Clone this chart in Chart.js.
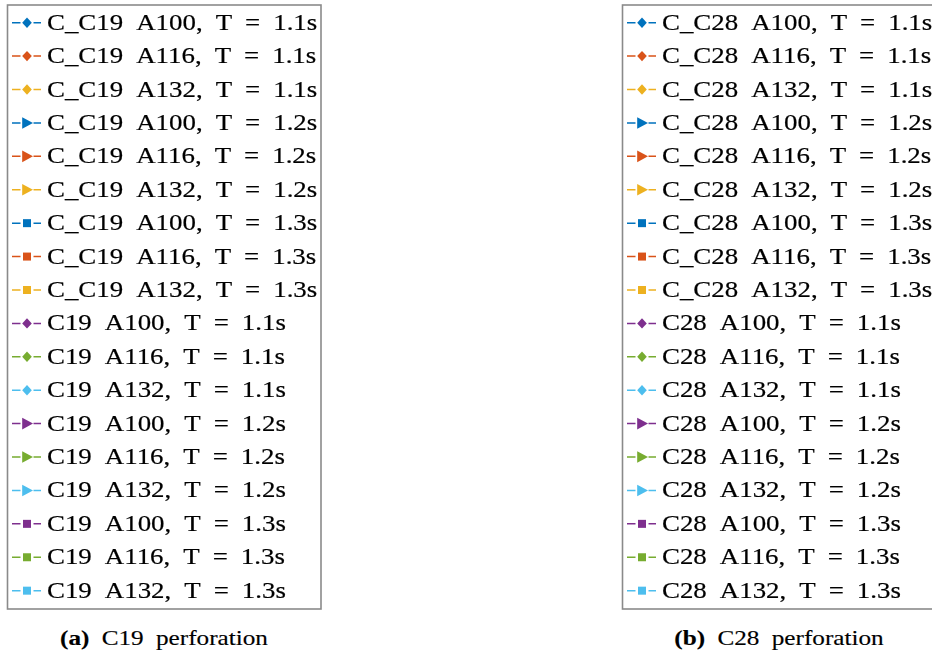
<!DOCTYPE html>
<html>
<head>
<meta charset="utf-8">
<script src="https://cdn.jsdelivr.net/npm/chart.js@4.4.1/dist/chart.umd.min.js"></script>
<style>
    html, body { margin: 0; padding: 0; background: #fff; width: 932px; height: 657px; overflow: hidden; }
    .panel { position: absolute; top: 0; }
    .caption {
        position: absolute; top: 626px; width: 300px; text-align: center;
        font-family: "Liberation Serif", "Times New Roman", serif; font-size: 21px; color: #000;
        white-space: nowrap; word-spacing: 5px; transform: scaleX(1.2); transform-origin: center;
        -webkit-text-stroke: 0.15px #000;
    }
    .caption b { font-weight: bold; }
</style>
</head>
<body>
<canvas id="chartC19" class="panel" width="330" height="616" style="left:0px"></canvas>
<canvas id="chartC28" class="panel" width="330" height="616" style="left:615px"></canvas>
<div class="caption" style="left:14px"><b>(a)</b> C19 perforation</div>
<div class="caption" style="left:629px"><b>(b)</b> C28 perforation</div>

<script>
// 測點（圖中被圖例遮住，只能估計）
const xLabels = ['G1', 'G2', 'G3', 'G4'];
const amplitudes = ['A100', 'A116', 'A132'];
const periods = ['1.1s', '1.2s', '1.3s'];

// 各組數值：順序為 T=1.1s(A100,A116,A132), T=1.2s(...), T=1.3s(...)
const cc19Values = [
    [0.42, 0.55, 0.61, 0.48], [0.45, 0.58, 0.66, 0.51], [0.47, 0.62, 0.70, 0.55],
    [0.40, 0.52, 0.59, 0.46], [0.43, 0.56, 0.63, 0.49], [0.46, 0.60, 0.68, 0.53],
    [0.38, 0.50, 0.57, 0.44], [0.41, 0.54, 0.61, 0.47], [0.44, 0.57, 0.65, 0.51]
];
const c19Values = [
    [0.36, 0.47, 0.53, 0.41], [0.39, 0.50, 0.57, 0.44], [0.41, 0.53, 0.60, 0.47],
    [0.35, 0.45, 0.51, 0.40], [0.37, 0.48, 0.55, 0.42], [0.40, 0.51, 0.58, 0.45],
    [0.33, 0.43, 0.49, 0.38], [0.36, 0.46, 0.52, 0.41], [0.38, 0.49, 0.56, 0.43]
];
const cc28Values = [
    [0.48, 0.60, 0.67, 0.53], [0.51, 0.64, 0.71, 0.56], [0.54, 0.67, 0.75, 0.60],
    [0.46, 0.58, 0.64, 0.51], [0.49, 0.61, 0.68, 0.54], [0.52, 0.65, 0.72, 0.58],
    [0.44, 0.55, 0.62, 0.49], [0.47, 0.59, 0.66, 0.52], [0.50, 0.62, 0.70, 0.55]
];
const c28Values = [
    [0.40, 0.51, 0.57, 0.45], [0.43, 0.54, 0.61, 0.48], [0.45, 0.57, 0.64, 0.51],
    [0.38, 0.49, 0.55, 0.43], [0.41, 0.52, 0.58, 0.46], [0.44, 0.55, 0.62, 0.49],
    [0.37, 0.47, 0.53, 0.41], [0.39, 0.50, 0.56, 0.44], [0.42, 0.53, 0.60, 0.47]
];

// MATLAB 預設配色
const colorsC = ['#0072BD', '#D95319', '#EDB120'];
const colorsPlain = ['#7E2F8E', '#77AC30', '#4DBEEE'];
const markerStyles = [
    { pointStyle: 'rectRot', rotation: 0 },
    { pointStyle: 'triangle', rotation: 90 },
    { pointStyle: 'rect', rotation: 0 }
];

function buildDatasets(prefix, values, colors) {
    const out = [];
    periods.forEach((per, pi) => {
        amplitudes.forEach((amp, ai) => {
            out.push({
                label: `${prefix} ${amp}, T = ${per}`,
                data: values[pi * 3 + ai],
                borderColor: colors[ai],
                backgroundColor: colors[ai],
                borderWidth: 1.5,
                borderDash: [6, 3, 2, 3],
                pointStyle: markerStyles[pi].pointStyle,
                pointRotation: markerStyles[pi].rotation,
                pointRadius: 4,
                fill: false
            });
        });
    });
    return out;
}

function drawMarker(ctx, style, x, y, color) {
    ctx.fillStyle = color;
    ctx.beginPath();
    if (style === 'rectRot') {
        ctx.moveTo(x, y - 5.2); ctx.lineTo(x + 4.8, y); ctx.lineTo(x, y + 5.2); ctx.lineTo(x - 4.8, y);
    } else if (style === 'triangle') {
        ctx.moveTo(x + 6, y); ctx.lineTo(x - 4.8, y - 5.8); ctx.lineTo(x - 4.8, y + 5.8);
    } else {
        ctx.rect(x - 4, y - 4, 8, 8);
    }
    ctx.closePath();
    ctx.fill();
}

// 蓋在繪圖區上的圖例框
const legendBox = {
    id: 'legendBox',
    afterDraw(chart, args, o) {
        const ctx = chart.ctx;
        ctx.save();
        ctx.fillStyle = '#ffffff';
        ctx.fillRect(o.left, o.top, o.width, o.height);
        ctx.lineWidth = 1.6;
        ctx.strokeStyle = '#8a8a8a';
        ctx.strokeRect(o.left, o.top, o.width, o.height);
        ctx.font = o.fontSize + 'px "Liberation Serif", "Times New Roman", serif';
        ctx.textBaseline = 'alphabetic';
        chart.data.datasets.forEach((ds, i) => {
            const cy = o.top + o.firstRow + i * o.rowStep;
            ctx.strokeStyle = ds.borderColor;
            ctx.lineWidth = 1.5;
            ctx.setLineDash([]);
            ctx.beginPath();
            ctx.moveTo(o.left + 4.5, cy); ctx.lineTo(o.left + 13, cy);
            ctx.moveTo(o.left + 26, cy); ctx.lineTo(o.left + 33.5, cy);
            ctx.stroke();
            drawMarker(ctx, ds.pointStyle, o.left + 19.5, cy, ds.borderColor);

            let tx = o.left + o.textOffset;
            ctx.fillStyle = '#000';
            ctx.strokeStyle = '#000';
            ctx.lineWidth = 0.2;
            ds.label.split(' ').forEach(word => {
                const w = ctx.measureText(word).width;
                ctx.save();
                ctx.translate(tx, cy + o.baselineShift);
                ctx.scale(o.stretch, 1);
                ctx.fillText(word, 0, 0);
                ctx.strokeText(word, 0, 0);
                ctx.restore();
                tx += w * o.stretch + o.wordGap;
            });
        });
        ctx.restore();
    }
};

function makeChart(canvasId, datasets) {
    return new Chart(document.getElementById(canvasId), {
        type: 'line',
        data: { labels: xLabels, datasets: datasets },
        plugins: [legendBox],
        options: {
            responsive: false,
            animation: false,
            devicePixelRatio: 1,
            layout: { padding: { left: 30, right: 30, top: 30, bottom: 30 } },
            scales: {
                x: { display: false },
                y: { display: false, min: 0.2, max: 0.9 }
            },
            plugins: {
                legend: { display: false },
                tooltip: { enabled: false },
                legendBox: {
                    left: 7.5, top: 5, width: 313.5, height: 604,
                    firstRow: 17.7, rowStep: 33.41,
                    fontSize: 24, stretch: 1.12, wordGap: 13,
                    textOffset: 39.5, baselineShift: 7
                }
            }
        }
    });
}

makeChart('chartC19', [
    ...buildDatasets('C_C19', cc19Values, colorsC),
    ...buildDatasets('C19', c19Values, colorsPlain)
]);
makeChart('chartC28', [
    ...buildDatasets('C_C28', cc28Values, colorsC),
    ...buildDatasets('C28', c28Values, colorsPlain)
]);
</script>
</body>
</html>
